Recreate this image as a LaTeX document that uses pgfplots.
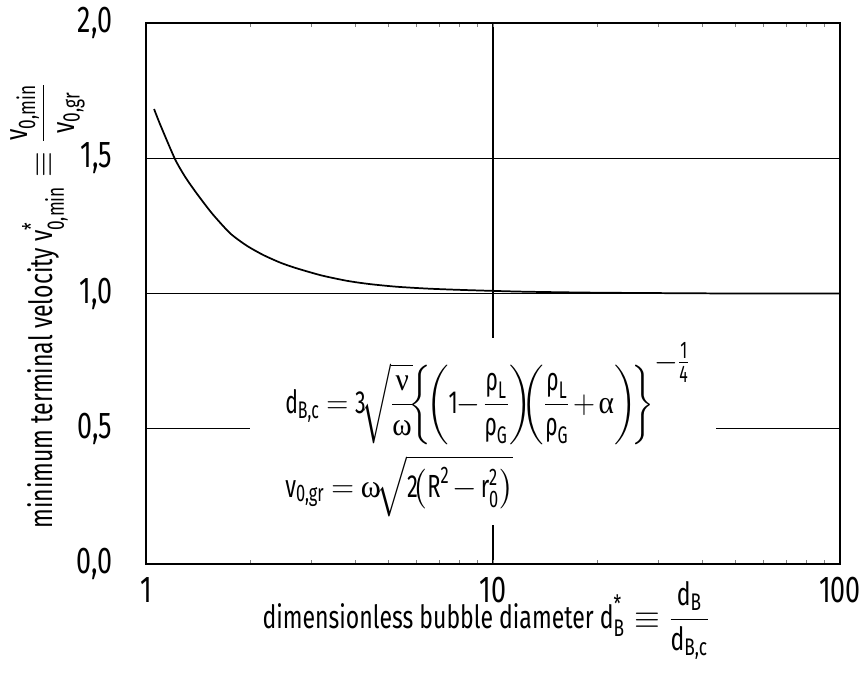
\documentclass[border=0pt]{standalone}
\usepackage{fontspec}
\setmainfont{Fira Sans}[FakeStretch=0.72]
\newfontfamily\grk{Liberation Serif}
\usepackage{amsmath}
\usepackage{graphicx}
\usepackage{pgfplots}
\pgfplotsset{compat=1.18}

% sub- and superscript sizes for the formula and title text
\DeclareMathSizes{24}{24}{18}{14}

% upright letters inside formulas come from the text font
\newcommand{\T}[1]{\text{#1}}
\newcommand{\gnu}{\text{\grk ν}}
\newcommand{\gom}{\text{\grk ω}}
\newcommand{\gal}{\text{\grk α}}
\newcommand{\grho}{\text{ρ}}
\newcommand{\ticksize}{\fontsize{28}{32}\selectfont}
\newcommand{\labsize}{\fontsize{24}{28}\selectfont}
\newcommand{\frmsize}{\fontsize{24}{28}\selectfont\medmuskip=2mu\thickmuskip=4mu}

% minimum terminal velocity over dimensionless bubble diameter
\pgfplotstableread{
x      y
1.055  1.682
1.10   1.623
1.212  1.497
1.30   1.429
1.40   1.370
1.55   1.296
1.746  1.223
1.95   1.177
2.18   1.142
2.45   1.113
2.72   1.093
3.20   1.067
3.79   1.047
4.40   1.035
5.28   1.025
6.50   1.018
8.21   1.013
12.0   1.007
20.0   1.003
50.0   1.000
100.0  1.000
}\vmin

\begin{document}
\begin{tikzpicture}[x=0.75pt,y=0.75pt]
\useasboundingbox (0,0) rectangle (859,686);
\begin{axis}[
  at={(109.5pt,91.5pt)}, anchor=south west,
  scale only axis, width=520.5pt, height=405.75pt,
  xmode=log, xmin=1, xmax=100, ymin=0, ymax=2,
  xtick={1,10,100}, xticklabels={1,10,100},
  minor xtick={},
  ytick={0,0.5,1,1.5,2},
  yticklabels={{0,0},{0,5},{1,0},{1,5},{2,0}},
  major tick length=0pt,
  grid=major,
  major grid style={black, line width=0.9pt},
  axis line style={black, line width=2pt},
  tick label style={font=\ticksize},
  yticklabel style={anchor=east, inner sep=0pt, xshift=-25pt},
  xticklabel style={anchor=north, inner sep=0pt, yshift=-10pt},
  clip=false,
]
\addplot[black, line width=1.3pt, smooth, tension=0.4] table[x=x,y=y] {\vmin};
\fill[white] (axis cs:1.994,0.144) rectangle (axis cs:43.9,0.835);
\end{axis}

% formulas
\node[anchor=base west, inner sep=0pt, font=\frmsize] at (285,273)
 {\scalebox{0.92}[1]{$\T{d}_{\T{B,c}} = \T{3}\!\sqrt{\dfrac{\gnu}{\gom}}\!{\left\{\!{\left(\T{1}\!-\dfrac{\grho_{\T{L}}}{\grho_{\T{G}}}\right)}\!\!{\left(\dfrac{\grho_{\T{L}}}{\grho_{\T{G}}}+\gal\right)}\!\right\}}^{\raisebox{2pt}{$\textstyle-\frac{\T{1}}{\T{4}}$}}$}};
\node[anchor=base west, inner sep=0pt, font=\frmsize] at (285,189)
 {\scalebox{0.95}[1]{$\T{v}_{\T{0,gr}} = \gom\!\sqrt{\T{2}\!{\left(\T{R}^{\T{2}}-\T{r}^{\T{2}}_{\T{0}}\right)}}$}};

% axis titles
\node[anchor=base, inner sep=0pt, font=\labsize] at (486,58)
 {dimensionless bubble diameter $\T{d}^{\T{*}}_{\T{B}} \equiv \dfrac{\T{d}_{\T{B}}}{\T{d}_{\T{B,c}}}$};
\node[anchor=base, rotate=90, inner sep=0pt, font=\labsize] at (52,380)
 {minimum terminal velocity $\T{v}^{\T{*}}_{\T{0,min}} \equiv \dfrac{\T{v}_{\T{0,min}}}{\T{v}_{\T{0,gr}}}$};
\end{tikzpicture}
\end{document}
